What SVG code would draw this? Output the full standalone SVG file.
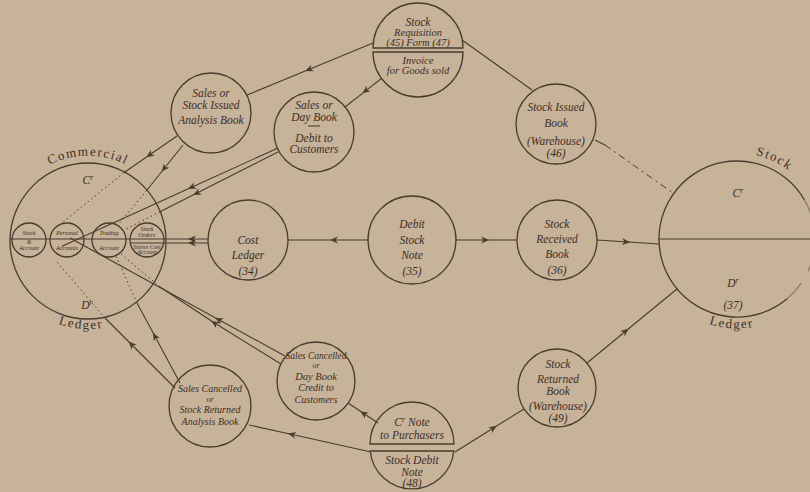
<svg xmlns="http://www.w3.org/2000/svg" width="810" height="492" viewBox="0 0 810 492">
<defs>
<style>
.bg{fill:#c7b29a}
.ln{stroke:#4b3b2e;stroke-width:1.1;fill:none}
.dot{stroke:#4b3b2e;stroke-width:1;stroke-dasharray:1.5 3;fill:none}
.dash{stroke:#4b3b2e;stroke-width:1;stroke-dasharray:7 4 2 4;fill:none}
.nd{fill:none;stroke:#4b3b2e;stroke-width:1.3}
.t{font-family:"Liberation Serif",serif;font-style:italic;font-size:11.5px;fill:#3d2f24;text-anchor:middle}
.s{font-size:10.5px}
.s10{font-size:10px}
.s9{font-size:9.5px}
.s8{font-size:8px}
.tiny{font-size:6px}
.big{font-size:13px;letter-spacing:1.5px;font-style:normal}
.ar{marker-mid:url(#arr)}
</style>
<marker id="arr" viewBox="0 0 10 8" refX="6" refY="4" markerWidth="10" markerHeight="8" markerUnits="userSpaceOnUse" orient="auto">
<path d="M0,0.5 L8,4 L0,7.5 L2.5,4 z" fill="#4b3b2e"/>
</marker>
<path id="arcCom" d="M14.5,198 A85,85 0 0 1 161.5,198"/>
<path id="arcLed" d="M11.8,285 A88,88 0 0 0 164.2,285"/>
<path id="arcStock" d="M707.6,158.2 A86,86 0 0 1 817.8,209.6"/>
<path id="arcLed2" d="M660,283 A88,88 0 0 0 814,283"/>
</defs>
<rect class="bg" x="0" y="0" width="810" height="492"/>

<g id="connectors">
<path class="ln ar" d="M373,43 L307,70.2 L247,95"/>
<path class="ln ar" d="M382,78 L364,92.1 L345,107"/>
<path class="ln" d="M462,40 L532,90"/>
<path class="ln" d="M595,140 L605,145"/>
<path class="dash" d="M605,145 L673,193"/>
<path class="ln ar" d="M177,136 L148,156 L123.8,172.7"/>
<path class="dot" d="M123.8,172.7 L62,223"/>
<path class="ln ar" d="M183,145 L163,170 L146.6,190.5"/>
<path class="dot" d="M146.6,190.5 L118,225"/>
<path class="ln ar" d="M278,148 L190,188 L62,246.2"/>
<path class="ln ar" d="M278,152 L195,194 L160,211.7"/>
<path class="dot" d="M160,211.7 L125,229.5"/>
<path class="ln ar" d="M208,239 L190,239 L10,239"/>
<path class="ln ar" d="M208,243 L190,243 L130,243"/>
<path class="ln ar" d="M368,240 L332,240 L288,240"/>
<path class="ln ar" d="M456,240 L487,240 L517,240"/>
<path class="ln ar" d="M597,240 L628,242 L659,244"/>
<path class="ln ar" d="M285,356 L217,318.7 L70,238"/>
<path class="ln ar" d="M281,364 L213,322 L160,287"/>
<path class="dot" d="M160,287 L121,254"/>
<path class="ln ar" d="M175,388 L130,343 L105,318"/>
<path class="dot" d="M105,318 L57,262"/>
<path class="ln ar" d="M180,383 L154,334.6 L137,303"/>
<path class="dot" d="M137,303 L116,256"/>
<path class="ln ar" d="M371,452 L290,434 L249,425"/>
<path class="ln ar" d="M378,423 L362,412.3 L348,403"/>
<path class="ln ar" d="M455,452 L495,427 L524,409"/>
<path class="ln ar" d="M587,363 L627,330 L677,289"/>
</g>

<g id="commercial-ledger">
<circle class="nd" cx="88" cy="241" r="78"/>
<text class="t big"><textPath href="#arcCom" startOffset="50%">Commercial</textPath></text>
<text class="t big"><textPath href="#arcLed" startOffset="46%">Ledger</textPath></text>
<text class="t" x="88" y="184">C<tspan dy="-4" font-size="8">r</tspan></text>
<text class="t" x="87" y="309">D<tspan dy="-4" font-size="8">r</tspan></text>
<circle class="nd" cx="29" cy="240" r="17"/>
<circle class="nd" cx="67" cy="240" r="17"/>
<circle class="nd" cx="109" cy="240" r="17"/>
<circle class="nd" cx="147" cy="240" r="17"/>
<text class="t tiny" x="29" y="235">Stock</text>
<text class="t tiny" x="29" y="244">&amp;</text>
<text class="t tiny" x="29" y="250">Account</text>
<text class="t tiny" x="67" y="235">Personal</text>
<text class="t tiny" x="67" y="250">Accounts</text>
<text class="t tiny" x="109" y="235">Trading</text>
<text class="t tiny" x="109" y="250">Account</text>
<text class="t tiny" x="147" y="231">Stock</text>
<text class="t tiny" x="147" y="237">Orders</text>
<text class="t tiny" x="147" y="249">Stores Cost</text>
<text class="t tiny" x="147" y="254">Account</text>
</g>

<g id="stock-requisition">
<path class="nd" d="M373,48 A45,45 0 0 1 463,48 Z"/>
<path class="nd" d="M373,52 L463,52 A45,45 0 0 1 373,52 Z"/>
<text class="t" x="418" y="26">Stock</text>
<text class="t s" x="418" y="36">Requisition</text>
<text class="t s" x="418" y="46">(45) Form (47)</text>
<text class="t s" x="418" y="64">Invoice</text>
<text class="t s" x="418" y="74">for Goods sold</text>
</g>

<g id="sales-analysis">
<circle class="nd" cx="211" cy="113" r="40"/>
<text class="t" x="211" y="97">Sales or</text>
<text class="t" x="211" y="109">Stock Issued</text>
<text class="t" x="211" y="124">Analysis Book</text>
</g>

<g id="day-book">
<circle class="nd" cx="314" cy="132" r="40"/>
<text class="t" x="314" y="109">Sales or</text>
<text class="t" x="314" y="121">Day Book</text>
<line class="ln" x1="308" y1="126" x2="320" y2="126"/>
<text class="t" x="314" y="142">Debit to</text>
<text class="t" x="314" y="153">Customers</text>
</g>

<g id="stock-issued">
<circle class="nd" cx="556" cy="124" r="40"/>
<text class="t" x="556" y="111">Stock Issued</text>
<text class="t" x="556" y="127">Book</text>
<text class="t" x="556" y="145">(Warehouse)</text>
<text class="t" x="556" y="157">(46)</text>
</g>

<g id="cost-ledger">
<circle class="nd" cx="248" cy="240" r="40"/>
<text class="t" x="248" y="244">Cost</text>
<text class="t" x="248" y="259">Ledger</text>
<text class="t" x="248" y="275">(34)</text>
</g>

<g id="debit-stock-note">
<circle class="nd" cx="412" cy="240" r="44"/>
<text class="t" x="412" y="228">Debit</text>
<text class="t" x="412" y="244">Stock</text>
<text class="t" x="412" y="259">Note</text>
<text class="t" x="412" y="275">(35)</text>
</g>

<g id="stock-received">
<circle class="nd" cx="557" cy="240" r="40"/>
<text class="t" x="557" y="228">Stock</text>
<text class="t" x="557" y="243">Received</text>
<text class="t" x="557" y="258">Book</text>
<text class="t" x="557" y="274">(36)</text>
</g>

<g id="stock-ledger">
<path class="nd" d="M804.5,200 A78,78 0 1 0 787.1,298.8"/>
<path class="nd" d="M804.5,200 A78,78 0 0 1 787.1,298.8" stroke-opacity="0.45" stroke-dasharray="30 14"/>
<line class="ln" x1="659" y1="239" x2="810" y2="239"/>
<text class="t big"><textPath href="#arcStock" startOffset="50%">Stock</textPath></text>
<text class="t big"><textPath href="#arcLed2" startOffset="47%">Ledger</textPath></text>
<text class="t" x="738" y="197">C<tspan dy="-4" font-size="8">r</tspan></text>
<text class="t" x="733" y="287">D<tspan dy="-4" font-size="8">r</tspan></text>
<text class="t" x="733" y="309">(37)</text>
</g>

<g id="sales-cancelled-analysis">
<circle class="nd" cx="210" cy="406" r="41"/>
<text class="t s10" x="210" y="392">Sales Cancelled</text>
<text class="t s8" x="210" y="401.5">or</text>
<text class="t s10" x="210" y="413">Stock Returned</text>
<text class="t s10" x="210" y="424.5">Analysis Book</text>
</g>

<g id="sales-cancelled-daybook">
<circle class="nd" cx="316" cy="381" r="39"/>
<text class="t s9" x="316" y="358.5">Sales Cancelled</text>
<text class="t s8" x="316" y="368">or</text>
<text class="t s" x="316" y="379.5">Day Book</text>
<text class="t s10" x="316" y="391">Credit to</text>
<text class="t s10" x="316" y="402.5">Customers</text>
</g>

<g id="cr-note">
<path class="nd" d="M370,444 A42,42 0 0 1 454,444 Z"/>
<path class="nd" d="M370.2,451 L453.8,451 A42,42 0 0 1 370.2,451 Z"/>
<text class="t" x="412" y="426">C<tspan dy="-4" font-size="8">r</tspan><tspan dy="4"> Note</tspan></text>
<text class="t" x="412" y="439">to Purchasers</text>
<text class="t" x="412" y="464">Stock Debit</text>
<text class="t" x="412" y="476">Note</text>
<text class="t" x="412" y="487">(48)</text>
</g>

<g id="stock-returned">
<circle class="nd" cx="557" cy="388" r="39"/>
<text class="t" x="558" y="368">Stock</text>
<text class="t" x="558" y="383">Returned</text>
<text class="t" x="558" y="395">Book</text>
<text class="t" x="558" y="410">(Warehouse)</text>
<text class="t" x="558" y="422">(49)</text>
</g>
</svg>
